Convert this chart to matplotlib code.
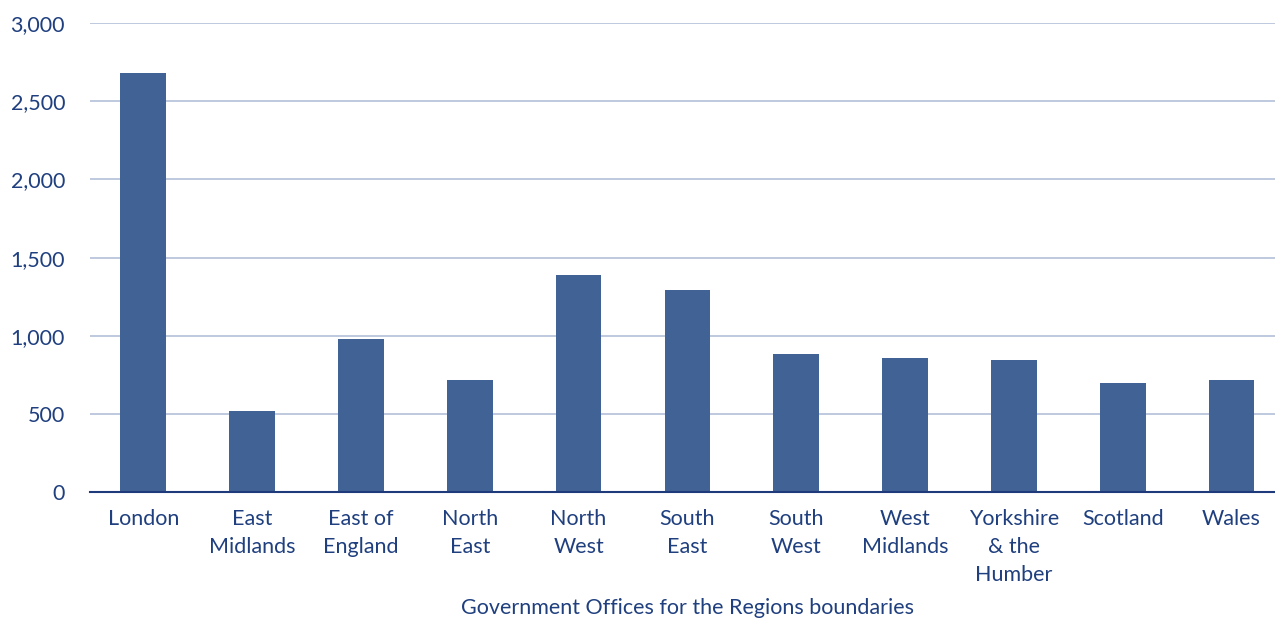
import matplotlib.pyplot as plt

regions = ['London', 'East\nMidlands', 'East of\nEngland', 'North\nEast', 'North\nWest',
           'South\nEast', 'South\nWest', 'West\nMidlands', 'Yorkshire\n& the\nHumber',
           'Scotland', 'Wales']
values = [2680, 520, 980, 720, 1390, 1290, 885, 860, 845, 700, 720]
y_ticks = [0, 500, 1000, 1500, 2000, 2500, 3000]

bar_color = '#406294'
text_color = '#1f3f7f'
grid_color = '#b4c0d8'

plt.rcParams['font.family'] = ['Lato', 'DejaVu Sans']

fig = plt.figure(figsize=(12.75, 6.2), dpi=100)
ax = fig.add_axes([0.0706, 0.206, 0.9294, 0.757])

x = range(len(regions))
ax.bar(x, values, width=0.42, color=bar_color, zorder=3)

ax.set_xlim(-0.49, 10.4)
ax.set_ylim(0, 3000)
ax.set_yticks(y_ticks)
ax.set_yticklabels([f'{v:,}' for v in y_ticks])
ax.set_xticks(list(x))
ax.set_xticklabels(regions, linespacing=1.5, va='top')

ax.yaxis.grid(True, color=grid_color, linewidth=1.2, zorder=0)
ax.set_axisbelow(True)
for side in ['left', 'right', 'top']:
    ax.spines[side].set_visible(False)
ax.spines['bottom'].set_color('#1f3a7a')
ax.spines['bottom'].set_linewidth(1.5)
ax.spines['bottom'].set_zorder(4)

ax.tick_params(axis='both', length=0, labelsize=15.5, colors=text_color)
ax.tick_params(axis='y', pad=18)
ax.tick_params(axis='x', pad=12)

# axis title sits just under the three-line tick label
fig.text(0.5395, 1 - 608 / 620, 'Government Offices for the Regions boundaries',
         fontsize=15.5, color=text_color, ha='center', va='center')

fig.savefig('out.png', dpi=100)
